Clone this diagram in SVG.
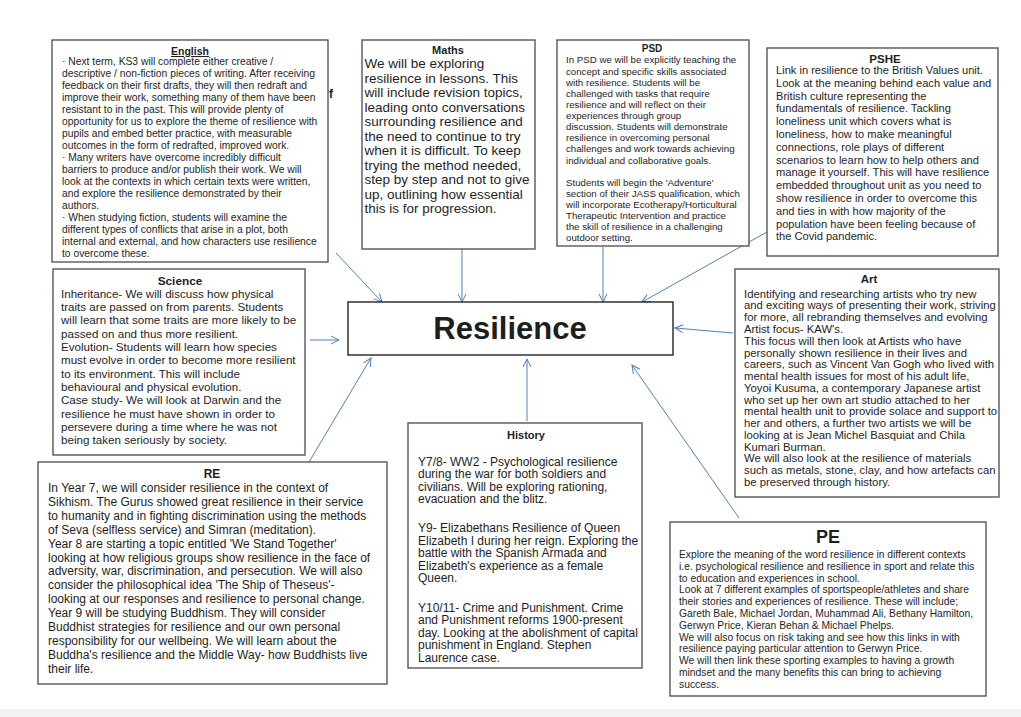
<svg xmlns="http://www.w3.org/2000/svg" width="1021" height="717" viewBox="0 0 1021 717">
<defs>
<style>
.box{fill:#fff;stroke:#4a4a4a;stroke-width:1.3}
.t{font-family:"Liberation Sans",Arial,sans-serif;fill:#1e1e1e}
.h{font-family:"Liberation Sans",Arial,sans-serif;font-weight:bold;fill:#1e1e1e;text-anchor:middle}
.c{stroke:#4f81bd;stroke-width:1;fill:none;marker-end:url(#ah)}
</style>
<marker id="ah" markerWidth="10" markerHeight="10" refX="9" refY="5" orient="auto" markerUnits="userSpaceOnUse">
<path d="M1,1 L9,5 L1,9" fill="none" stroke="#4f81bd" stroke-width="1"/>
</marker>
</defs>
<rect x="0" y="0" width="1021" height="717" fill="#fff"/>
<rect x="0" y="709" width="1021" height="8" fill="#f2f2f2"/>

<g id="connectors">
<line class="c" x1="336" y1="253" x2="382" y2="302"/>
<line class="c" x1="462" y1="249" x2="462" y2="302"/>
<line class="c" x1="603" y1="247" x2="603" y2="302"/>
<line class="c" x1="767" y1="232" x2="642" y2="302"/>
<line class="c" x1="733" y1="333" x2="675" y2="328"/>
<line class="c" x1="310" y1="340" x2="339" y2="340"/>
<line class="c" x1="309" y1="462" x2="371" y2="358"/>
<line class="c" x1="527" y1="421" x2="527" y2="359"/>
<line class="c" x1="739" y1="518" x2="632" y2="365"/>
</g>

<g id="node-resilience">
<rect x="348" y="302" width="325" height="53" fill="#fff" stroke="#111" stroke-width="1.3"/>
<text x="510" y="339" class="h" font-size="31" fill="#000">Resilience</text>
</g>

<g id="node-english">
<rect class="box" x="52" y="40" width="276" height="222" stroke="#222"/>
<text x="190" y="55" class="h" font-size="10.5" text-decoration="underline">English</text>
<text class="t" font-size="10.3">
<tspan x="62" y="65.3">· Next term, KS3  will complete either creative /</tspan>
<tspan x="62" dy="11.96">descriptive / non-fiction pieces of writing. After receiving</tspan>
<tspan x="62" dy="11.96">feedback on their first drafts, they will then redraft and</tspan>
<tspan x="62" dy="11.96">improve their work, something many of them have been</tspan>
<tspan x="62" dy="11.96">resistant to in the past. This will provide plenty of</tspan>
<tspan x="62" dy="11.96">opportunity for us to explore the theme of resilience with</tspan>
<tspan x="62" dy="11.96">pupils and embed better practice, with measurable</tspan>
<tspan x="62" dy="11.96">outcomes in the form of redrafted, improved work.</tspan>
<tspan x="62" dy="11.96">· Many writers have overcome incredibly difficult</tspan>
<tspan x="62" dy="11.96">barriers to produce and/or publish their work. We will</tspan>
<tspan x="62" dy="11.96">look at the contexts in which certain texts were written,</tspan>
<tspan x="62" dy="11.96">and explore the resilience demonstrated by their</tspan>
<tspan x="62" dy="11.96">authors.</tspan>
<tspan x="62" dy="11.96">· When studying fiction, students will examine the</tspan>
<tspan x="62" dy="11.96">different types of conflicts that arise in a plot, both</tspan>
<tspan x="62" dy="11.96">internal and external, and how characters use resilience</tspan>
<tspan x="62" dy="11.96">to overcome these.</tspan>
</text>
<text x="329" y="98" class="t" font-size="12" font-weight="bold" fill="#333">f</text>
</g>

<g id="node-maths">
<rect class="box" x="362" y="40" width="173" height="209" stroke="#666" stroke-width="1.6"/>
<text x="448" y="54" class="h" font-size="11">Maths</text>
<text class="t" font-size="13.5">
<tspan x="364.5" y="68">We will be exploring</tspan>
<tspan x="364.5" dy="14.5">resilience in lessons. This</tspan>
<tspan x="364.5" dy="14.5">will include revision topics,</tspan>
<tspan x="364.5" dy="14.5">leading onto conversations</tspan>
<tspan x="364.5" dy="14.5">surrounding resilience and</tspan>
<tspan x="364.5" dy="14.5">the need to continue to try</tspan>
<tspan x="364.5" dy="14.5">when  it is difficult. To keep</tspan>
<tspan x="364.5" dy="14.5">trying the method needed,</tspan>
<tspan x="364.5" dy="14.5">step by step and not to give</tspan>
<tspan x="364.5" dy="14.5">up, outlining how essential</tspan>
<tspan x="364.5" dy="14.5">this is for progression.</tspan>
</text>
</g>

<g id="node-psd">
<rect class="box" x="557" y="40" width="192" height="206" stroke="#666" stroke-width="1.6"/>
<text x="652" y="52" class="h" font-size="10">PSD</text>
<text class="t" font-size="9.7">
<tspan x="566" y="63.4">In PSD  we will be explicitly teaching the</tspan>
<tspan x="566" dy="11.13">concept and specific skills associated</tspan>
<tspan x="566" dy="11.13">with resilience. Students will be</tspan>
<tspan x="566" dy="11.13">challenged with tasks that require</tspan>
<tspan x="566" dy="11.13">resilience and will reflect on their</tspan>
<tspan x="566" dy="11.13">experiences through group</tspan>
<tspan x="566" dy="11.13">discussion. Students will demonstrate</tspan>
<tspan x="566" dy="11.13">resilience in overcoming personal</tspan>
<tspan x="566" dy="11.13">challenges and work towards achieving</tspan>
<tspan x="566" dy="11.13">individual and collaborative goals.</tspan>
<tspan x="566" dy="22.26">Students will begin the 'Adventure'</tspan>
<tspan x="566" dy="11.13">section of their JASS qualification, which</tspan>
<tspan x="566" dy="11.13">will incorporate Ecotherapy/Horticultural</tspan>
<tspan x="566" dy="11.13">Therapeutic Intervention and practice</tspan>
<tspan x="566" dy="11.13">the skill of resilience in a challenging</tspan>
<tspan x="566" dy="11.13">outdoor setting.</tspan>
</text>
</g>

<g id="node-pshe">
<rect class="box" x="767" y="48" width="231" height="208" stroke="#333"/>
<text x="885" y="62.5" class="h" font-size="11.5">PSHE</text>
<text class="t" font-size="11.1">
<tspan x="776" y="74">Link in resilience to the British Values unit.</tspan>
<tspan x="776" dy="12.8">Look at the meaning behind each value and</tspan>
<tspan x="776" dy="12.8">British culture representing the</tspan>
<tspan x="776" dy="12.8">fundamentals of resilience. Tackling</tspan>
<tspan x="776" dy="12.8">loneliness unit which covers what is</tspan>
<tspan x="776" dy="12.8">loneliness, how to make meaningful</tspan>
<tspan x="776" dy="12.8">connections, role plays of  different</tspan>
<tspan x="776" dy="12.8">scenarios to learn how to  help others and</tspan>
<tspan x="776" dy="12.8">manage it yourself. This will have resilience</tspan>
<tspan x="776" dy="12.8">embedded throughout unit as you need to</tspan>
<tspan x="776" dy="12.8">show resilience in order to  overcome this</tspan>
<tspan x="776" dy="12.8">and ties in with how majority of the</tspan>
<tspan x="776" dy="12.8">population have been feeling because of</tspan>
<tspan x="776" dy="12.8">the Covid pandemic.</tspan>
</text>
</g>

<g id="node-science">
<rect class="box" x="53" y="269" width="252" height="186" stroke="#555"/>
<text x="180" y="285" class="h" font-size="11.8">Science</text>
<text class="t" font-size="11.6">
<tspan x="61" y="297.7">Inheritance- We will discuss how physical</tspan>
<tspan x="61" dy="13.33">traits are passed on from parents. Students</tspan>
<tspan x="61" dy="13.33">will learn that some traits are more likely to be</tspan>
<tspan x="61" dy="13.33">passed on and thus more resilient.</tspan>
<tspan x="61" dy="13.33">Evolution- Students will learn how species</tspan>
<tspan x="61" dy="13.33">must evolve in order to become more resilient</tspan>
<tspan x="61" dy="13.33">to its environment. This will include</tspan>
<tspan x="61" dy="13.33">behavioural and physical evolution.</tspan>
<tspan x="61" dy="13.33">Case study- We will look at Darwin and the</tspan>
<tspan x="61" dy="13.33">resilience he must have shown in order to</tspan>
<tspan x="61" dy="13.33">persevere during a time where he was not</tspan>
<tspan x="61" dy="13.33">being taken seriously by society.</tspan>
</text>
</g>

<g id="node-art">
<rect class="box" x="735" y="269" width="264" height="228" stroke="#444"/>
<text x="869" y="283" class="h" font-size="11.5">Art</text>
<text class="t" font-size="11.3">
<tspan x="744" y="297.7">Identifying and researching artists who try  new</tspan>
<tspan x="744" dy="11.77">and exciting ways of presenting their work, striving</tspan>
<tspan x="744" dy="11.77">for more, all rebranding themselves and evolving</tspan>
<tspan x="744" dy="11.77">Artist focus- KAW's.</tspan>
<tspan x="744" dy="11.77">This focus will then look at Artists who have</tspan>
<tspan x="744" dy="11.77">personally shown resilience in their lives and</tspan>
<tspan x="744" dy="11.77">careers, such as Vincent Van Gogh who lived with</tspan>
<tspan x="744" dy="11.77">mental health issues for most of his adult life,</tspan>
<tspan x="744" dy="11.77">Yoyoi Kusuma, a contemporary Japanese artist</tspan>
<tspan x="744" dy="11.77">who set up her own art studio attached to her</tspan>
<tspan x="744" dy="11.77">mental health unit to provide solace and support to</tspan>
<tspan x="744" dy="11.77">her and others, a further two artists we will be</tspan>
<tspan x="744" dy="11.77">looking at is Jean Michel Basquiat and Chila</tspan>
<tspan x="744" dy="11.77">Kumari Burman.</tspan>
<tspan x="744" dy="11.77">We will also look at the resilience of materials</tspan>
<tspan x="744" dy="11.77">such as metals, stone, clay, and how artefacts can</tspan>
<tspan x="744" dy="11.77">be preserved through history.</tspan>
</text>
</g>

<g id="node-re">
<rect class="box" x="38" y="462" width="349" height="222" stroke="#555"/>
<text x="212" y="478" class="h" font-size="12">RE</text>
<text class="t" font-size="12">
<tspan x="48" y="492">In Year 7, we will consider resilience in the context of</tspan>
<tspan x="48" dy="13.9">Sikhism. The  Gurus showed great resilience in their service</tspan>
<tspan x="48" dy="13.9">to humanity and in fighting discrimination using the methods</tspan>
<tspan x="48" dy="13.9">of Seva (selfless service) and Simran (meditation).</tspan>
<tspan x="48" dy="13.9">Year 8 are starting a topic entitled 'We Stand Together'</tspan>
<tspan x="48" dy="13.9">looking at how religious groups show resilience in the face of</tspan>
<tspan x="48" dy="13.9">adversity, war, discrimination, and persecution. We will also</tspan>
<tspan x="48" dy="13.9">consider the philosophical idea 'The Ship of Theseus'-</tspan>
<tspan x="48" dy="13.9">looking at our responses and resilience to personal change.</tspan>
<tspan x="48" dy="13.9">Year 9 will be studying Buddhism. They will consider</tspan>
<tspan x="48" dy="13.9">Buddhist strategies for resilience and our own personal</tspan>
<tspan x="48" dy="13.9">responsibility for our wellbeing. We will learn about the</tspan>
<tspan x="48" dy="13.9">Buddha's resilience and the Middle Way- how Buddhists live</tspan>
<tspan x="48" dy="13.9">their life.</tspan>
</text>
</g>

<g id="node-history">
<rect class="box" x="408" y="423" width="234" height="245" stroke="#333"/>
<text x="526" y="439" class="h" font-size="11">History</text>
<text class="t" font-size="12">
<tspan x="418" y="465.5">Y7/8- WW2 - Psychological resilience</tspan>
<tspan x="418" dy="12.5">during the war for both soldiers and</tspan>
<tspan x="418" dy="12.5">civilians. Will be exploring rationing,</tspan>
<tspan x="418" dy="12.5">evacuation and the blitz.</tspan>
<tspan x="418" dy="29.3">Y9- Elizabethans Resilience of Queen</tspan>
<tspan x="418" dy="12.5">Elizabeth I during her reign. Exploring the</tspan>
<tspan x="418" dy="12.5">battle with the Spanish Armada and</tspan>
<tspan x="418" dy="12.5">Elizabeth's experience as a female</tspan>
<tspan x="418" dy="12.5">Queen.</tspan>
<tspan x="418" dy="29.3">Y10/11- Crime and Punishment. Crime</tspan>
<tspan x="418" dy="12.5">and Punishment reforms 1900-present</tspan>
<tspan x="418" dy="12.5">day. Looking at the abolishment of capital</tspan>
<tspan x="418" dy="12.5">punishment in England. Stephen</tspan>
<tspan x="418" dy="12.5">Laurence case.</tspan>
</text>
</g>

<g id="node-pe">
<rect class="box" x="670" y="522" width="316" height="174" stroke="#666" stroke-width="1.6"/>
<text x="828" y="543" class="h" font-size="18">PE</text>
<text class="t" font-size="10.3">
<tspan x="679" y="558">Explore the meaning of the word resilience in different contexts</tspan>
<tspan x="679" dy="11.8">i.e. psychological resilience and resilience in sport and relate this</tspan>
<tspan x="679" dy="11.8">to education and experiences in school.</tspan>
<tspan x="679" dy="11.8">Look at 7  different examples of sportspeople/athletes and share</tspan>
<tspan x="679" dy="11.8">their stories and experiences of resilience. These will include;</tspan>
<tspan x="679" dy="11.8">Gareth Bale,  Michael Jordan, Muhammad Ali, Bethany Hamilton,</tspan>
<tspan x="679" dy="11.8">Gerwyn Price,  Kieran Behan &amp; Michael Phelps.</tspan>
<tspan x="679" dy="11.8">We will also focus on risk taking and see how this links in with</tspan>
<tspan x="679" dy="11.8">resilience paying particular attention to Gerwyn Price.</tspan>
<tspan x="679" dy="11.8">We will then link these sporting examples to having a growth</tspan>
<tspan x="679" dy="11.8">mindset and the many benefits this can bring to achieving</tspan>
<tspan x="679" dy="11.8">success.</tspan>
</text>
</g>
</svg>
